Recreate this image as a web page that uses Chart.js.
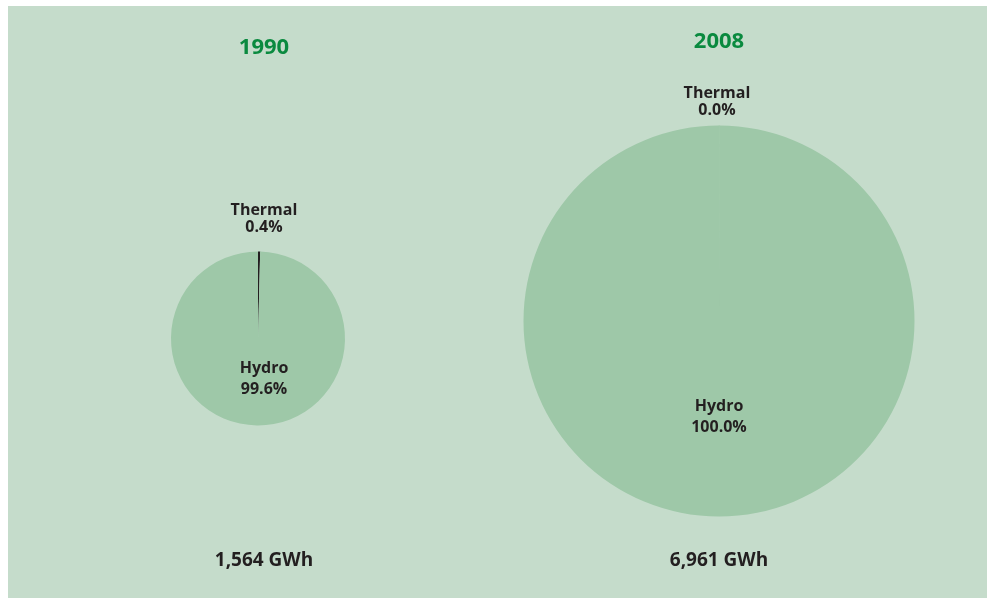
<!DOCTYPE html>
<html>
<head>
<meta charset="utf-8">
<script src="https://cdn.jsdelivr.net/npm/chart.js@4.4.1/dist/chart.umd.min.js"></script>
<style>
  html,body{margin:0;padding:0;background:#fff;width:987px;height:598px;overflow:hidden;}
  #panel{position:absolute;left:8px;top:6px;right:0;bottom:0;background:#c5dccb;}
  .wrap{position:absolute;left:0;top:0;width:987px;height:598px;}
</style>
</head>
<body>
<div id="panel"></div>
<div class="wrap"><canvas id="pie1990"></canvas></div>
<div class="wrap"><canvas id="pie2008"></canvas></div>
<script>
// data
const years = ['1990', '2008'];
const totals = ['1,564 GWh', '6,961 GWh'];
const sources = ['Thermal', 'Hydro'];
const shareLabels1990 = ['0.4%', '99.6%'];
const shareLabels2008 = ['0.0%', '100.0%'];
const share1990 = [0.4, 99.6];
const share2008 = [0.01, 100.0];

const hydroGreen = '#9ec8a8';
const titleGreen = '#0a8a3f';
const ink = '#231f20';

// draws year, slice labels and total as canvas text
const textPlugin = {
  id: 'pieText',
  afterDraw(chart, args, opts) {
    const ctx = chart.ctx;
    ctx.save();
    ctx.textAlign = 'center';
    ctx.textBaseline = 'alphabetic';
    opts.items.forEach(it => {
      ctx.font = 'bold ' + it.size + 'px "Open Sans"';
      ctx.fillStyle = it.color;
      ctx.fillText(it.text, it.x, it.y);
    });
    ctx.restore();
  }
};

function makePie(id, values, pad, borderW, borderC, items) {
  return new Chart(document.getElementById(id), {
    type: 'pie',
    data: {
      labels: sources,
      datasets: [{
        data: values,
        backgroundColor: [ink, hydroGreen],
        borderWidth: borderW,
        borderColor: borderC
      }]
    },
    options: {
      responsive: true,
      maintainAspectRatio: false,
      animation: false,
      layout: {padding: pad},
      plugins: {
        legend: {display: false},
        tooltip: {enabled: false},
        pieText: {items: items}
      }
    },
    plugins: [textPlugin]
  });
}

makePie('pie1990', share1990,
  {left: 171, right: 642, top: 251, bottom: 172},
  [0, 0], [ink, hydroGreen],
  [
    {text: years[0], x: 264, y: 54, size: 22, color: titleGreen},
    {text: sources[0], x: 264, y: 215, size: 16, color: ink},
    {text: shareLabels1990[0], x: 264, y: 232, size: 16, color: ink},
    {text: sources[1], x: 264, y: 373, size: 16, color: ink},
    {text: shareLabels1990[1], x: 264, y: 394, size: 16, color: ink},
    {text: totals[0], x: 264, y: 566, size: 19, color: ink}
  ]);

makePie('pie2008', share2008,
  {left: 523, right: 72, top: 125, bottom: 81},
  [1, 0], ['#b4d6bd', hydroGreen],
  [
    {text: years[1], x: 719, y: 48, size: 22, color: titleGreen},
    {text: sources[0], x: 717, y: 98, size: 16, color: ink},
    {text: shareLabels2008[0], x: 717, y: 115, size: 16, color: ink},
    {text: sources[1], x: 719, y: 411, size: 16, color: ink},
    {text: shareLabels2008[1], x: 719, y: 432, size: 16, color: ink},
    {text: totals[1], x: 719, y: 566, size: 19, color: ink}
  ]);
</script>
</body>
</html>
